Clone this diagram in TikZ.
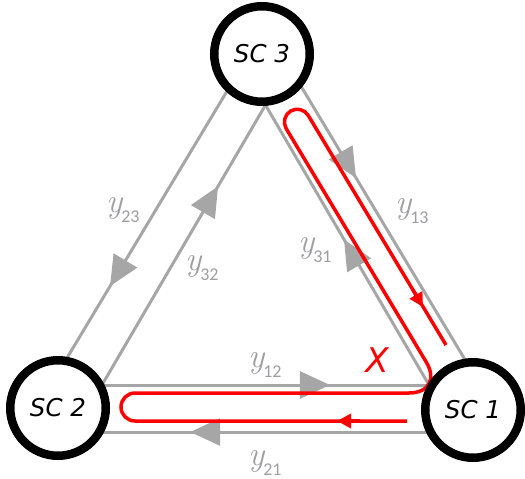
\documentclass[tikz,border=0pt]{standalone}
\usepackage{fontspec}
\newfontfamily\scfont{DejaVu Sans}
\newfontfamily\subfont{Carlito}
\usetikzlibrary{arrows.meta,decorations.markings}
\definecolor{lgray}{RGB}{166,166,166}
\definecolor{labgray}{RGB}{158,158,163}
\definecolor{rd}{RGB}{255,0,0}
\newcommand{\ylab}[1]{{\fontsize{34}{34}\selectfont\itshape y}\kern-1pt\raisebox{-10pt}{\subfont\fontsize{18}{18}\selectfont #1}}
\begin{document}
\begin{tikzpicture}[x=1pt,y=-1pt,
  gline/.style={draw=lgray, line width=3pt},
  gtip/.style={postaction={decorate}, decoration={markings, mark=at position #1 with {\arrow{Triangle[length=30pt,width=27pt]}}}},
  rline/.style={draw=rd, line width=3.5pt},
  rtip/.style={draw=rd, line width=3.5pt, -{Triangle[length=14pt,width=14pt]}},
  sc/.style={circle, draw=black, line width=8.5pt, fill=white, minimum size=95.5pt, inner sep=0pt, font=\scfont\itshape\fontsize{24.5}{24.5}\selectfont},
  lab/.style={text=labgray, inner sep=0pt, anchor=base west}]
\useasboundingbox (0,0) rectangle (525,479);
% gray triangles
\coordinate (Ao) at (265.5,27);
\coordinate (Bo) at (22.6,432);
\coordinate (Co) at (508.4,432);
\coordinate (Ai) at (265.5,105);
\coordinate (Bi) at (102,385);
\coordinate (Ci) at (429,385);
\draw[gline, gtip=0.64] (Ao) -- (Bo);
\draw[gline, gtip=0.373] (Ao) -- (Co);
\draw[gline, gtip=0.655] (Co) -- (Bo);
\draw[gline, gtip=0.71] (Bi) -- (Ai);
\draw[gline, gtip=0.52] (Ci) -- (Ai);
\draw[gline, gtip=0.697] (Bi) -- (Ci);
% red loop
\coordinate (rs) at (407,421);
\coordinate (rl1) at (121,421);
\coordinate (rl2) at (121,393);
\coordinate (rbr) at (444.8,393);
\coordinate (rt1) at (279.6,117.6);
\coordinate (rt2) at (301.6,104.4);
\coordinate (re) at (446,345);
\draw[rline, rounded corners=14pt] (rs) -- (rl1) -- (rl2) [rounded corners=36pt] -- (rbr) [rounded corners=12.9pt] -- (rt1) -- (rt2) -- (re);
\coordinate (ra1s) at (360,421);
\coordinate (ra1) at (337,421);
\coordinate (ra2s) at (412.9,289.8);
\coordinate (ra2) at (423,307);
\draw[rtip] (ra1s) -- (ra1);
\draw[rtip] (ra2s) -- (ra2);
% circles
\node[sc] (sc3) at (262,54) {SC 3};
\node[sc] (sc2) at (58,408) {SC 2};
\node[sc] (sc1) at (473,410) {SC 1};
% labels
\node[lab] (l13) at (395,213) {\ylab{13}};
\node[lab] (l31) at (298,252) {\ylab{31}};
\node[lab] (l23) at (106,212) {\ylab{23}};
\node[lab] (l32) at (185,270) {\ylab{32}};
\node[lab] (l12) at (248,367) {\ylab{12}};
\node[lab] (l21) at (248,465) {\ylab{21}};
\node[text=rd, inner sep=0pt, font=\scfont\itshape\fontsize{34}{34}\selectfont] (x) at (377,360) {X};
\end{tikzpicture}
\end{document}
